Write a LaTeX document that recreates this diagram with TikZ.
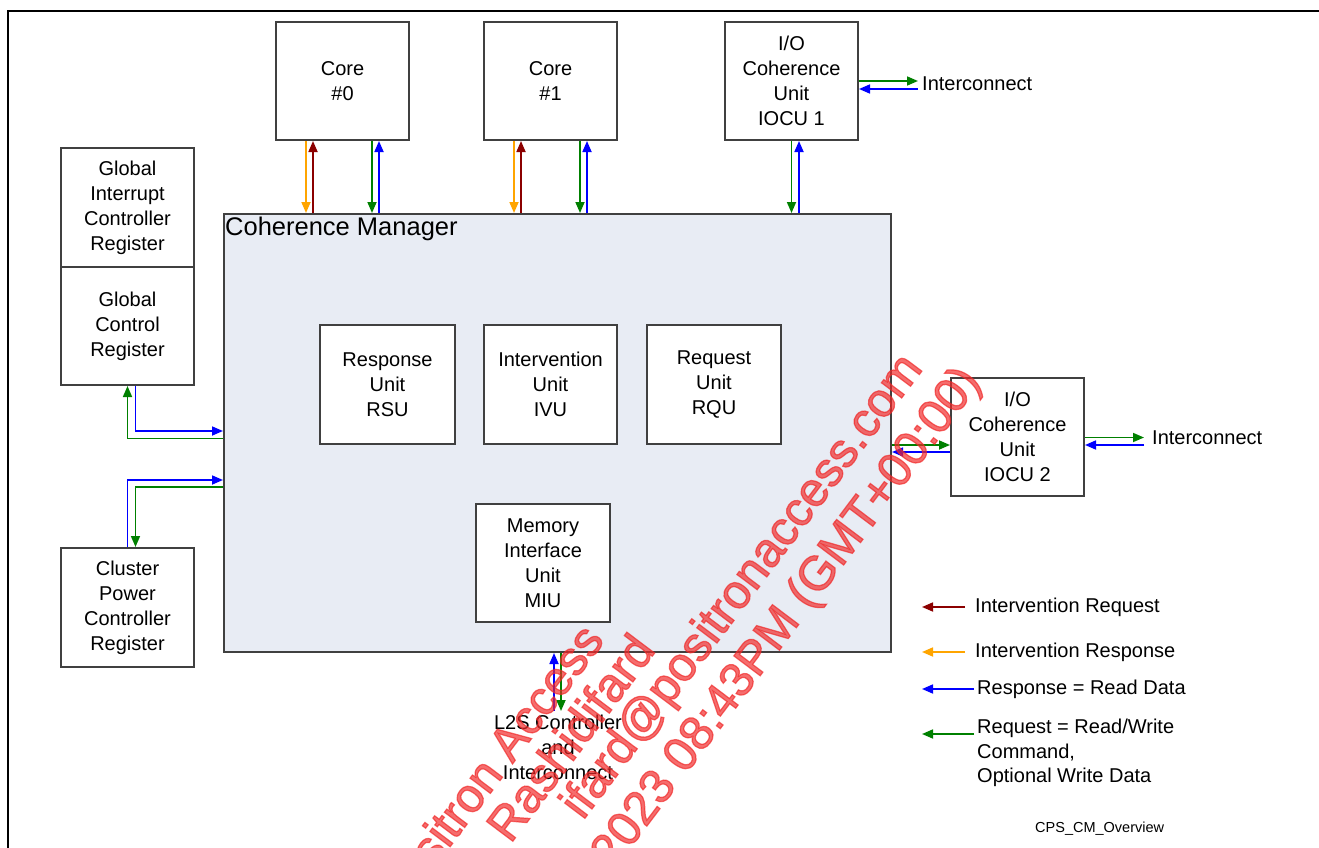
\documentclass[tikz,border=0pt]{standalone}
\usepackage{fontspec}
\setmainfont{Liberation Sans}
\newfontfamily\stampfont[FakeBold=2.5]{Liberation Sans}
\usetikzlibrary{arrows.meta,calc}
\definecolor{cmfill}{RGB}{232,236,244}
\definecolor{edge}{RGB}{64,64,64}
\definecolor{ireqc}{RGB}{139,0,0}
\definecolor{irspc}{RGB}{255,165,0}
\definecolor{rspc}{RGB}{0,0,255}
\definecolor{reqc}{RGB}{0,128,0}
\definecolor{wmark}{RGB}{240,40,40}
\begin{document}
\begin{tikzpicture}[x=1pt,y=-1pt,
  unit/.style={draw=edge, line width=2pt, fill=white, align=center, inner sep=0pt,
    font=\fontsize{20}{25}\selectfont},
  lbl/.style={inner sep=0pt, font=\fontsize{20}{24.5}\selectfont},
  flow/.style={line width=1.7pt, -{Triangle[length=11pt,width=9pt]}},
  ireq/.style={flow, draw=ireqc},
  irsp/.style={flow, draw=irspc},
  rsp/.style={flow, draw=rspc},
  req/.style={flow, draw=reqc},
  wm/.style={rotate=53, inner sep=0pt, text=wmark, text opacity=0.68,
    font=\stampfont\fontsize{48}{48}\selectfont}]
\useasboundingbox (0,0) rectangle (1319,848);

% page frame
\draw[line width=2pt] (8,848) -- (8,11) -- (1319,11);

% coherence manager and its internal units
\node[unit, fill=cmfill, minimum width=667pt, minimum height=438pt] (cm) at (557.5,433) {};
\node[anchor=west, inner sep=0pt, font=\fontsize{25.5}{30}\selectfont] (cmlabel) at (225,229) {Coherence Manager};
\node[unit, minimum width=135pt, minimum height=119pt] (rsu) at (387.5,384.5) {Response\\Unit\\RSU};
\node[unit, minimum width=133pt, minimum height=119pt] (ivu) at (550.5,384.5) {Intervention\\Unit\\IVU};
\node[unit, minimum width=134pt, minimum height=119pt] (rqu) at (714,384.5) {Request\\Unit\\RQU};
\node[unit, minimum width=134pt, minimum height=118pt] (miu) at (543,563) {Memory\\Interface\\Unit\\MIU};

% cores and I/O coherence units
\node[unit, minimum width=133pt, minimum height=118pt] (core0) at (342.5,81) {Core\\\#0};
\node[unit, minimum width=133pt, minimum height=118pt] (core1) at (550.5,81) {Core\\\#1};
\node[unit, minimum width=133pt, minimum height=118pt] (iocu1) at (791.5,81) {I/O\\Coherence\\Unit\\IOCU 1};
\node[unit, minimum width=133pt, minimum height=118pt] (iocu2) at (1017.5,437) {I/O\\Coherence\\Unit\\IOCU 2};
\node[lbl, anchor=west] (ic1) at (922,84) {Interconnect};
\node[lbl, anchor=west] (ic2) at (1152,438) {Interconnect};

% registers on the left
\node[unit, minimum width=133pt, minimum height=119pt] (gic) at (127.5,207.5) {Global\\Interrupt\\Controller\\Register};
\node[unit, minimum width=133pt, minimum height=118pt] (gcr) at (127.5,326) {Global\\Control\\Register};
\node[unit, minimum width=133pt, minimum height=119pt] (cpc) at (127.5,607.5) {Cluster\\Power\\Controller\\Register};

% L2S below
\node[lbl, anchor=north, align=center, font=\fontsize{20}{25}\selectfont] (l2s) at (558,715) {L2S Controller\\and\\Interconnect};

% core <-> coherence manager
\foreach \c in {core0,core1} {
  \draw[irsp] ($(\c.south)+(-36.5,0)$) -- ($(\c.south |- cm.north)+(-36.5,0)$);
  \draw[ireq] ($(\c.south |- cm.north)+(-29.5,0)$) -- ($(\c.south)+(-29.5,0)$);
  \draw[req] ($(\c.south)+(29.5,0)$) -- ($(\c.south |- cm.north)+(29.5,0)$);
  \draw[rsp] ($(\c.south |- cm.north)+(36.5,0)$) -- ($(\c.south)+(36.5,0)$);
}

% IOCU 1
\draw[req] (iocu1.south) -- (iocu1.south |- cm.north);
\draw[rsp] ($(iocu1.south |- cm.north)+(7.5,0)$) -- ($(iocu1.south)+(7.5,0)$);
\draw[req] (iocu1.east) -- ($(iocu1.east -| ic1.west)+(-4,0)$);
\draw[rsp] ($(iocu1.east -| ic1.west)+(-4,8)$) -- ($(iocu1.east)+(0,8)$);

% IOCU 2
\draw[req] ($(iocu2.west -| cm.east)+(0,8)$) -- ($(iocu2.west)+(0,8)$);
\draw[rsp] ($(iocu2.west)+(0,15)$) -- ($(iocu2.west -| cm.east)+(0,15)$);
\draw[req] ($(iocu2.east)+(0,0.5)$) -- ($(iocu2.east -| ic2.west)+(-8,0.5)$);
\draw[rsp] ($(iocu2.east -| ic2.west)+(-8,8)$) -- ($(iocu2.east)+(0,8)$);

% registers <-> coherence manager
\draw[rsp] ($(gcr.south)+(8,0)$) |- ($(gcr.south -| cm.west)+(0,45)$);
\draw[req] ($(gcr.south -| cm.west)+(0,52.5)$) -| (gcr.south);
\draw[rsp] (cpc.north) |- ($(cpc.north -| cm.west)+(0,-67)$);
\draw[req] ($(cpc.north -| cm.west)+(0,-60)$) -| ($(cpc.north)+(8,0)$);

% memory interface <-> L2S
\draw[rsp] ($(miu.south |- l2s.north)+(11,-4)$) -- ($(miu.south |- cm.south)+(11,0)$);
\draw[req] ($(miu.south |- cm.south)+(18,0)$) -- ($(miu.south |- l2s.north)+(18,-4)$);

% legend
\node[lbl, anchor=west] (lgA) at (975,607) {Intervention Request};
\node[lbl, anchor=west] (lgB) at (975,652) {Intervention Response};
\node[lbl, anchor=west] (lgC) at (977,689) {Response = Read Data};
\node[lbl, anchor=north west, align=left] (lgD) at (977,719) {Request = Read/Write\\Command,\\Optional Write Data};
\draw[ireq] ($(lgA.west)+(-10,0)$) -- ($(lgA.west)+(-53,0)$);
\draw[irsp] ($(lgB.west)+(-10,0)$) -- ($(lgB.west)+(-53,0)$);
\draw[rsp] ($(lgC.west)+(-3,0)$) -- ($(lgC.west)+(-55,0)$);
\draw[req] ($(lgD.north west)+(-3,15)$) -- ($(lgD.north west)+(-55,15)$);

\node[anchor=west, inner sep=0pt, font=\fontsize{14.5}{17}\selectfont] (fig) at (1035,829) {CPS\_CM\_Overview};

% overlay stamp
\begin{scope}
  \clip (0,0) rectangle (1319,848);
  \node[wm, anchor=east] (wm1) at (592,630) {Positron Access};
  \node[wm, anchor=east] (wm2) at (643,640) {Rashidifard};
  \node[wm, anchor=east] (wm3) at (914,361) {ifard@positronaccess.com};
  \node[wm, anchor=east] (wm4) at (972,374) {2023 08:43PM (GMT+00:00)};
\end{scope}
\end{tikzpicture}
\end{document}
